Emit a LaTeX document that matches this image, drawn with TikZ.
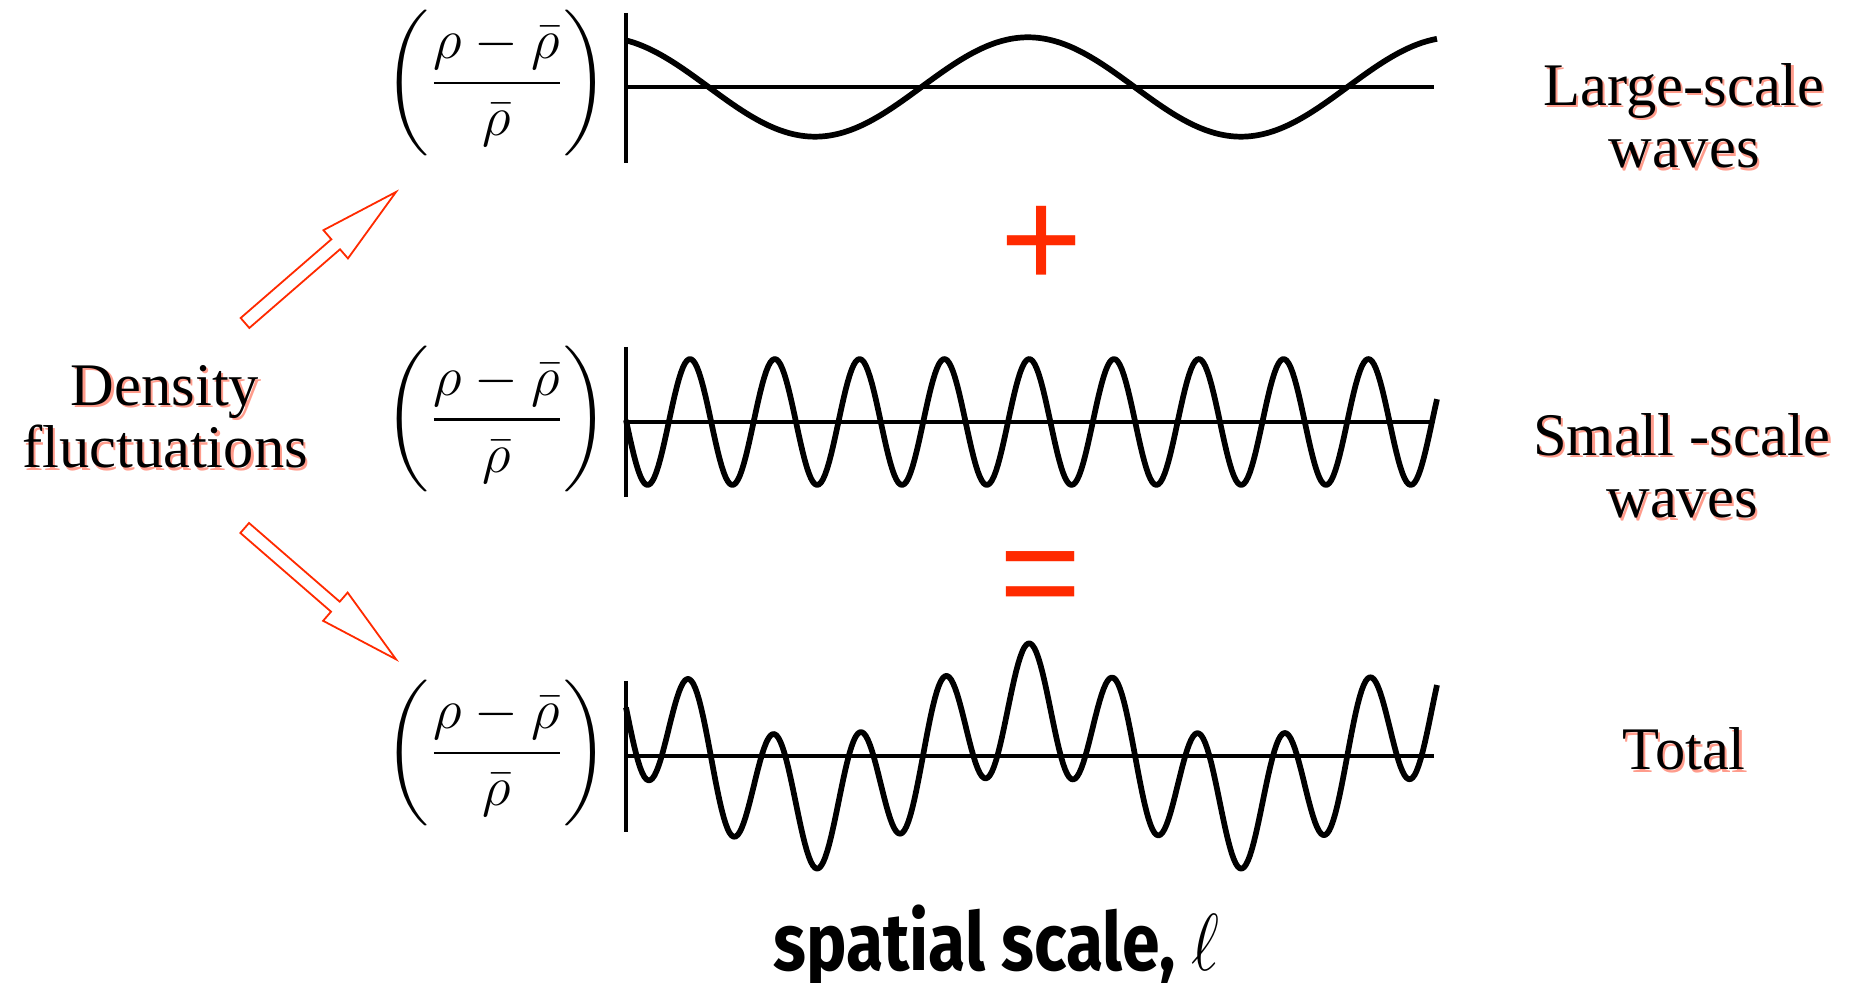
\RequirePackage{fix-cm}
\documentclass[tikz,border=0pt]{standalone}
\usepackage{amsmath}
\usepackage{graphicx}
\usepackage{fontspec}
\newfontfamily\labelfont{Liberation Serif}
\newfontfamily\signfont{Liberation Sans}
\newfontfamily\axisfont{Fira Sans}
\definecolor{signred}{HTML}{FF2A00}
\definecolor{glowred}{HTML}{FF9C8C}
\usetikzlibrary{calc}

% label with a soft red shadow
\newcommand{\glowlabel}[3]{%
  \node[labeltext, text=glowred] (#1Glow) at ($#2+(2.2,2.4)$) {#3};
  \node[labeltext] (#1) at #2 {#3};}
% outlined block arrow from #1 to #2
\newcommand{\hollowarrow}[2]{%
  \draw[arrowline]
    ($(#1)!0.066cm!90:(#2)$) -- ($($(#1)!1.2cm!(#2)$)!0.066cm!90:(#2)$)
    -- ($($(#1)!1.2cm!(#2)$)!0.187cm!90:(#2)$) -- (#2)
    -- ($($(#1)!1.2cm!(#2)$)!0.187cm!-90:(#2)$)
    -- ($($(#1)!1.2cm!(#2)$)!0.066cm!-90:(#2)$)
    -- ($(#1)!0.066cm!-90:(#2)$) -- cycle;}

\begin{document}
\begin{tikzpicture}[x=0.01cm, y=-0.01cm,
    labeltext/.style={font=\labelfont\fontsize{17.2}{17.9}\selectfont,
      align=center, inner sep=0pt, anchor=base},
    fraction/.style={font=\fontsize{16}{19}\selectfont, inner sep=0pt},
    wave/.style={line width=0.057cm, line join=round},
    axisline/.style={line width=0.04cm},
    sign/.style={font=\signfont\fontsize{40}{40}\selectfont, text=signred,
      inner sep=0pt},
    arrowline/.style={draw=signred, fill=white, line width=0.018cm,
      line join=miter}]
  \useasboundingbox (0,0) rectangle (1853,983);
  % Axes
  \foreach \ya/\yt/\yb in {87/13/163, 422/347/497, 756/681/832} {
    \draw[axisline] (626,\yt) -- (626,\yb);
    \draw[axisline] (626,\ya) -- (1434,\ya);
  }
  % Waves
  \draw[wave] plot[domain=626:1437, samples=300]
    (\x, {87-49.7*cos((\x-1028)/426*360)});
  \draw[wave] plot[domain=626:1437, samples=400]
    (\x, {422-63*cos((\x-690)/84.8*360)});
  \draw[wave] plot[domain=626:1437, samples=400]
    (\x, {756-49.7*cos((\x-1028)/426*360)-63*cos((\x-690)/84.8*360)});
  % Fractions
  \node[fraction] (fracLarge) at (496.7,83)
    {$\left(\dfrac{\rho-\bar{\rho}}{\bar{\rho}}\right)$};
  \node[fraction] (fracSmall) at (496.7,419.5)
    {$\left(\dfrac{\rho-\bar{\rho}}{\bar{\rho}}\right)$};
  \node[fraction] (fracTotal) at (496.7,753)
    {$\left(\dfrac{\rho-\bar{\rho}}{\bar{\rho}}\right)$};
  % Signs
  \node[sign] (plus) at (1041.7,247) {+};
  \node[sign] (equals) at (1040.5,586) {=};
  % Labels
  \glowlabel{density}{(165,468)}{Density\\fluctuations}
  \glowlabel{large}{(1684,168)}{Large-scale\\waves}
  \glowlabel{small}{(1682,518)}{Small -scale\\waves}
  \glowlabel{total}{(1684,770)}{Total}
  \node[anchor=base, inner sep=0pt,
    font=\axisfont\bfseries\fontsize{23}{23}\selectfont] (scaleLabel)
    at (996.5,971) {\scalebox{0.84}[1]{spatial scale, $\ell$}};
  % Arrows
  \coordinate (upTail) at (245,323);
  \coordinate (upTip) at (396,192);
  \coordinate (downTail) at (244.7,528);
  \coordinate (downTip) at (396,659.3);
  \hollowarrow{upTail}{upTip}
  \hollowarrow{downTail}{downTip}
\end{tikzpicture}
\end{document}
